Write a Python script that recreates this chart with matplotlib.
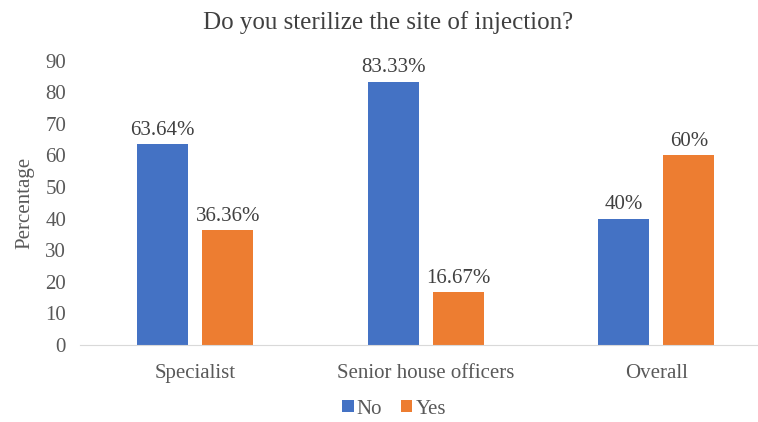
import matplotlib.pyplot as plt
import numpy as np

categories = ["Specialist", "Senior house officers", "Overall"]
no_values = [63.64, 83.33, 40]
yes_values = [36.36, 16.67, 60]
no_labels = ["63.64%", "83.33%", "40%"]
yes_labels = ["36.36%", "16.67%", "60%"]

plt.rcParams['font.family'] = ['Liberation Serif', 'DejaVu Serif']

fig = plt.figure(figsize=(7.58, 4.22), dpi=100)
# plot area in pixels: left 80, right edge of figure, bottom 345, top 60.5
ax = fig.add_axes([80 / 758, 1 - 345 / 422, 678 / 758, (345 - 60.5) / 422])

x = np.arange(len(categories))
width = 0.221
off = 0.141
blue = "#4472C4"
orange = "#ED7D31"

b1 = ax.bar(x - off, no_values, width, color=blue, label="No")
b2 = ax.bar(x + off, yes_values, width, color=orange, label="Yes")

for bars, labs in ((b1, no_labels), (b2, yes_labels)):
    for rect, lab in zip(bars, labs):
        ax.annotate(lab, (rect.get_x() + rect.get_width() / 2, rect.get_height()),
                    xytext=(0, 3), textcoords="offset points", ha="center", va="bottom",
                    fontsize=15, color="#404040")

ax.set_xlim(-0.5, -0.5 + 678 / 230.5)
ax.set_ylim(0, 90)
ax.set_yticks(range(0, 91, 10))
ax.set_xticks(x)
ax.set_xticklabels(categories)
ax.tick_params(length=0, labelsize=15, colors="#595959", pad=14)
ax.tick_params(axis="y", pad=10)
for s in ("top", "right", "left"):
    ax.spines[s].set_visible(False)
ax.spines["bottom"].set_color("#D9D9D9")

ax.set_ylabel("Percentage", fontsize=15, color="#595959", labelpad=8)
fig.text(388 / 758, 1 - 23 / 422, "Do you sterilize the site of injection?", ha="center", va="center",
         fontsize=18, color="#404040")

fig.legend(handles=[b1, b2], loc="center", bbox_to_anchor=(394 / 758, 1 - 409 / 422), ncol=2,
           frameon=False, fontsize=15, handlelength=0.55, handleheight=0.55, handletextpad=0.15,
           columnspacing=0.9, labelcolor="#595959")

fig.savefig("out.png", dpi=100)
